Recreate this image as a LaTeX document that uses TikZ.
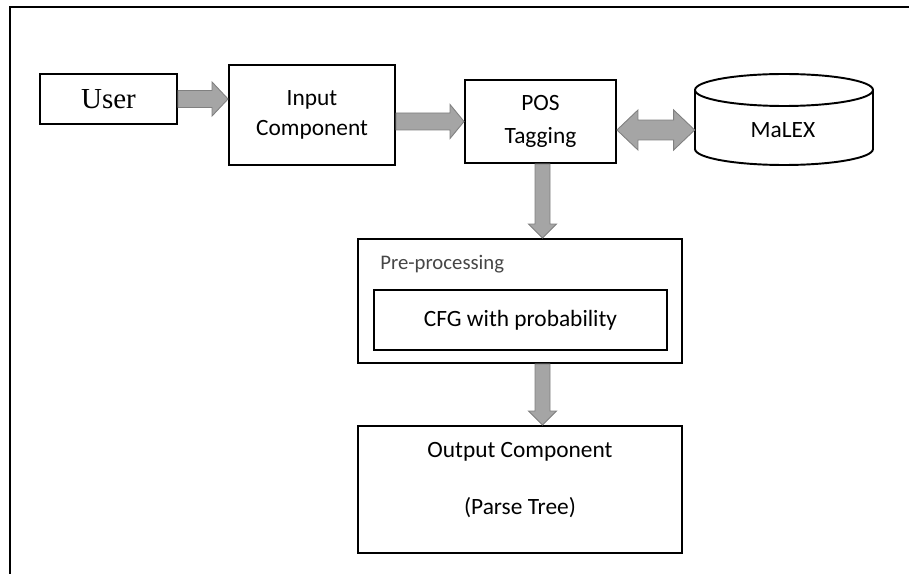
\documentclass[tikz,border=0pt]{standalone}
\usepackage{fontspec}
\setmainfont{Carlito}
\newfontfamily\userfont{Liberation Serif}
\usetikzlibrary{calc}

\definecolor{arrowfill}{RGB}{165,165,165}
\definecolor{arrowedge}{RGB}{128,128,128}
\definecolor{labelgray}{RGB}{70,70,70}

% block arrow from #1 to #2: shaft half width #3, head half width #4, head length #5
\newcommand\blockarrow[5]{%
  \coordinate (ba-s) at (#1);
  \coordinate (ba-e) at (#2);
  \coordinate (ba-h) at ($(ba-e)!#5!(ba-s)$);
  \draw[fatarrow] ($(ba-s)!#3!90:(ba-e)$) -- ($(ba-h)!#3!-90:(ba-s)$)
    -- ($(ba-h)!#4!-90:(ba-s)$) -- (ba-e) -- ($(ba-h)!#4!90:(ba-s)$)
    -- ($(ba-h)!#3!90:(ba-s)$) -- ($(ba-s)!#3!-90:(ba-e)$) -- cycle;}

% block arrow with heads at both ends
\newcommand\blockarrowboth[5]{%
  \coordinate (bb-s) at (#1);
  \coordinate (bb-e) at (#2);
  \coordinate (bb-hs) at ($(bb-s)!#5!(bb-e)$);
  \coordinate (bb-he) at ($(bb-e)!#5!(bb-s)$);
  \draw[fatarrow] (bb-s) -- ($(bb-hs)!#4!90:(bb-e)$) -- ($(bb-hs)!#3!90:(bb-e)$)
    -- ($(bb-he)!#3!-90:(bb-s)$) -- ($(bb-he)!#4!-90:(bb-s)$) -- (bb-e)
    -- ($(bb-he)!#4!90:(bb-s)$) -- ($(bb-he)!#3!90:(bb-s)$)
    -- ($(bb-hs)!#3!-90:(bb-e)$) -- ($(bb-hs)!#4!-90:(bb-e)$) -- cycle;}

\tikzset{
  box/.style={draw, line width=1.1pt, inner sep=0pt},
  txt/.style={font=\fontsize{13.3}{17}\selectfont, align=center, inner sep=0pt},
  fatarrow/.style={fill=arrowfill, draw=arrowedge, line width=0.5pt, line join=miter},
}

\begin{document}
\begin{tikzpicture}[x=0.02cm, y=-0.02cm]
  \useasboundingbox (0,0) rectangle (909,574);

  % outer frame (only top and left edges fall inside the page)
  \draw[line width=1.3pt] (909,7) -- (10,7) -- (10,574);

  % blocks
  \node[box, minimum width=2.74cm, minimum height=1.0cm,
        font=\userfont\fontsize{16.5}{19}\selectfont] (user) at (108.5,99) {User};
  \node[box, txt, minimum width=3.32cm, minimum height=2.0cm] (input) at (312,115) {Input\\Component};
  \node[box, txt, minimum width=3.02cm, minimum height=1.66cm,
        font=\fontsize{13.3}{18.5}\selectfont] (pos) at (540.5,121.5) {POS\\Tagging};

  % MaLEX store drawn as a cylinder
  \node[minimum width=3.56cm, minimum height=1.82cm, inner sep=0pt] (malex) at (784,119.5) {};
  \draw[line width=1.1pt, fill=white]
    (695,90) -- (695,149) arc[start angle=180, end angle=360, x radius=1.78cm, y radius=0.32cm]
    -- (873,90);
  \draw[line width=1.1pt] (784,90) ellipse[x radius=1.78cm, y radius=0.32cm];
  \node[txt] (malexlabel) at (783,130) {MaLEX};

  % pre-processing group
  \node[box, minimum width=6.48cm, minimum height=2.48cm] (pre) at (520,301) {};
  \node[anchor=west, inner sep=0pt, text=labelgray,
        font=\fontsize{11.8}{14}\selectfont] (prelabel) at (380,264) {Pre-processing};
  \node[box, txt, minimum width=5.86cm, minimum height=1.2cm] (cfg) at (520.5,320) {CFG with probability};

  % output block
  \node[box, minimum width=6.48cm, minimum height=2.54cm] (out) at (520,489.5) {};
  \node[txt] (outtitle) at (520,452) {Output Component};
  \node[txt] (outtree) at (520,508) {(Parse Tree)};

  % connectors
  \blockarrow{user.east}{input.west |- user.east}{0.17cm}{0.34cm}{0.32cm}
  \blockarrow{input.east |- pos.west}{pos.west}{0.17cm}{0.34cm}{0.28cm}
  \blockarrowboth{$(pos.east)+(0,8.5)$}{$(malex.west)+(0,10.5)$}{0.2cm}{0.4cm}{0.42cm}
  \blockarrow{$(pos.south)+(2,0)$}{$(pos.south |- pre.north)+(2,0)$}{0.15cm}{0.28cm}{0.28cm}
  \blockarrow{$(pos.south |- pre.south)+(2,0)$}{$(pos.south |- out.north)+(2,0)$}{0.15cm}{0.28cm}{0.28cm}
\end{tikzpicture}
\end{document}
